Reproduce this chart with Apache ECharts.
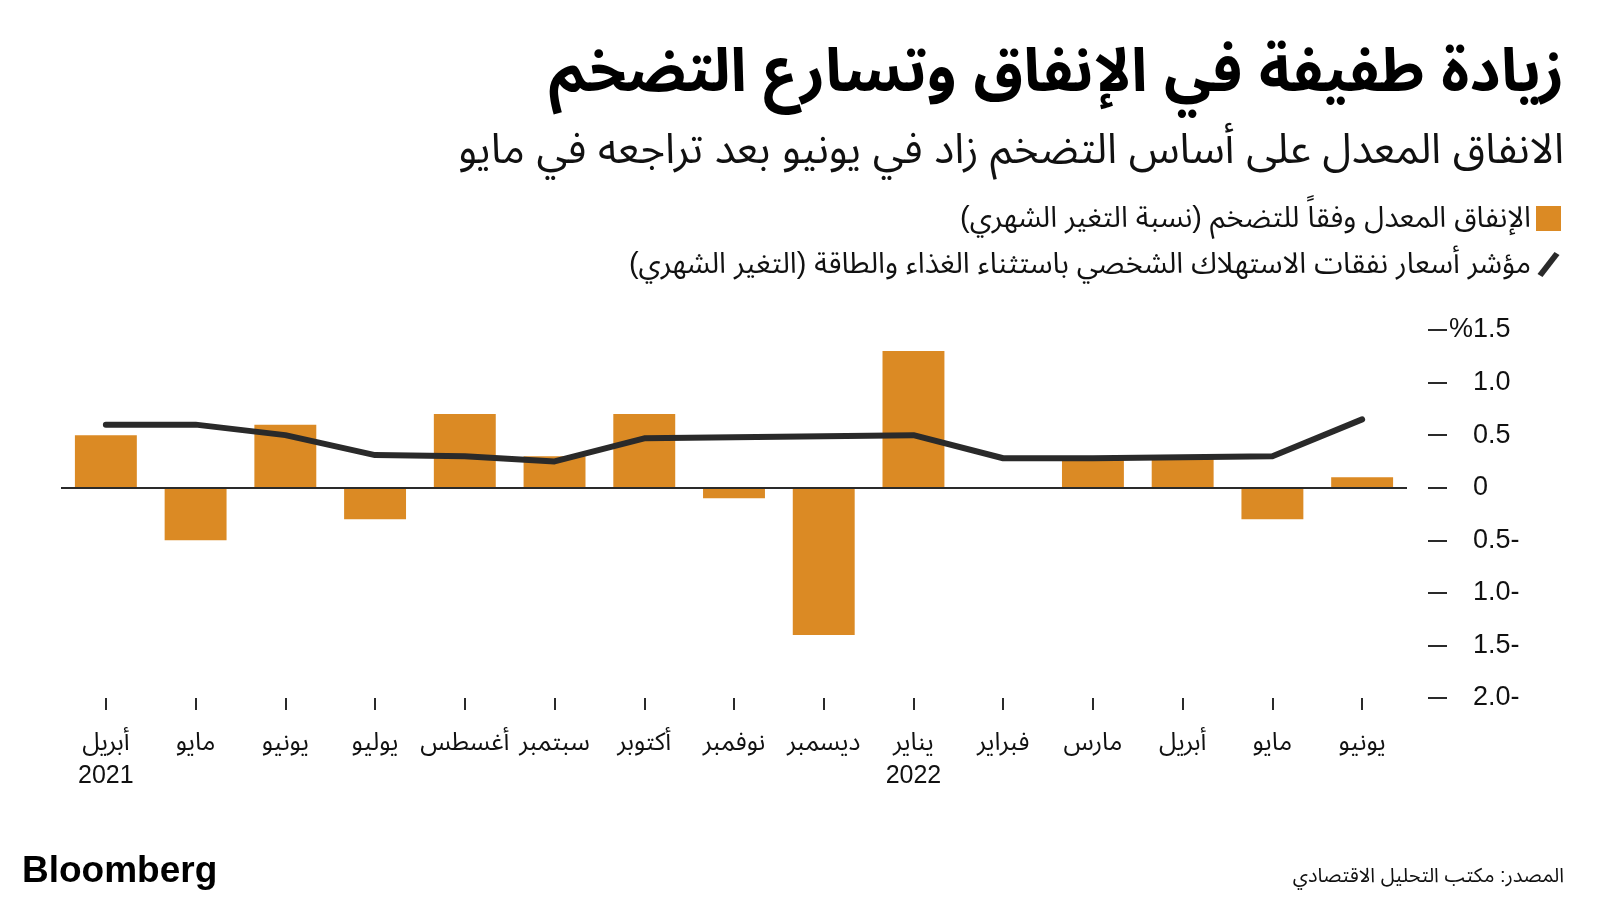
<!DOCTYPE html>
<html>
<head>
<meta charset="utf-8">
<script src="https://cdn.jsdelivr.net/npm/echarts@6/dist/echarts.min.js"></script>
<style>
  html, body { margin: 0; padding: 0; background: #ffffff; }
  #chart { width: 1600px; height: 900px; }
</style>
</head>
<body>
<div id="chart"></div>
<script>
// ---- Data ----
const categories = ['أبريل\n2021', 'مايو', 'يونيو', 'يوليو', 'أغسطس', 'سبتمبر', 'أكتوبر', 'نوفمبر', 'ديسمبر', 'يناير\n2022', 'فبراير', 'مارس', 'أبريل', 'مايو', 'يونيو'];
const spendingValues = [0.5, -0.5, 0.6, -0.3, 0.7, 0.3, 0.7, -0.1, -1.4, 1.3, 0, 0.3, 0.3, -0.3, 0.1];
const pceValues = [0.6, 0.6, 0.5, 0.31, 0.3, 0.25, 0.47, 0.48, 0.49, 0.5, 0.28, 0.28, 0.29, 0.3, 0.65];
const yTickValues = [1.5, 1.0, 0.5, 0, -0.5, -1.0, -1.5, -2.0];
const yTickLabels = ['%1.5', '1.0', '0.5', '0', '0.5-', '1.0-', '1.5-', '2.0-'];

const titleText = 'زيادة طفيفة في الإنفاق وتسارع التضخم';
const subtitleText = 'الانفاق المعدل على أساس التضخم زاد في يونيو بعد تراجعه في مايو';
const spendingName = '\u200Fالإنفاق المعدل وفقاً للتضخم (نسبة التغير الشهري)\u200F';
const pceName = '\u200Fمؤشر أسعار نفقات الاستهلاك الشخصي باستثناء الغذاء والطاقة (التغير الشهري)\u200F';
const sourceText = 'المصدر: مكتب التحليل الاقتصادي';
const brandText = 'Bloomberg';

const FONT = "'Liberation Sans', 'Noto Sans Arabic', 'DejaVu Sans', sans-serif";
const ORANGE = '#db8a24';
const DARK = '#2a2a2a';

const chart = echarts.init(document.getElementById('chart'), null, { renderer: 'canvas' });

chart.setOption({
  backgroundColor: '#ffffff',
  animation: false,
  textStyle: { fontFamily: FONT },
  title: [
    { text: titleText, right: 31, top: 39,
      textStyle: { fontSize: 60, fontWeight: 'bold', color: '#000', fontFamily: FONT } },
    { text: subtitleText, right: 31, top: 125,
      textStyle: { fontSize: 42, fontWeight: 'normal', color: '#111', fontFamily: FONT } },
    { text: brandText, left: 17, top: 848,
      textStyle: { fontSize: 37, fontWeight: 'bold', color: '#000', fontFamily: FONT } },
    { text: sourceText, right: 31, top: 861,
      textStyle: { fontSize: 20, fontWeight: 'normal', color: '#111', fontFamily: FONT } }
  ],
  legend: {
    orient: 'vertical',
    align: 'right',
    right: 34,
    top: 199,
    itemWidth: 25,
    itemHeight: 25,
    itemGap: 17,
    selectedMode: false,
    textStyle: { fontSize: 29, color: '#111', fontFamily: FONT },
    data: [
      { name: spendingName, icon: 'rect', itemStyle: { color: ORANGE } },
      { name: pceName, icon: 'path://M17,0 L22,3 L5,25 L0,22 Z', itemStyle: { color: DARK } }
    ]
  },
  grid: { left: 61, right: 193, top: 330, bottom: 202, containLabel: false },
  xAxis: {
    type: 'category',
    data: categories,
    position: 'bottom',
    axisLine: { show: false, onZero: false },
    axisTick: { show: true, alignWithLabel: true, length: 12, lineStyle: { color: DARK, width: 2 } },
    axisLabel: { margin: 29, fontSize: 25, lineHeight: 33, color: '#111', fontFamily: FONT, interval: 0 },
    splitLine: { show: false }
  },
  yAxis: {
    type: 'value',
    position: 'right',
    min: -2,
    max: 1.5,
    interval: 0.5,
    offset: 21,
    axisLine: { show: false },
    axisTick: { show: true, inside: false, length: 19, lineStyle: { color: DARK, width: 2 } },
    splitLine: { show: false },
    axisLabel: {
      margin: 21,
      fontSize: 27,
      color: '#111',
      fontFamily: FONT,
      align: 'left',
      formatter: function (v) {
        let idx = -1;
        for (let i = 0; i < yTickValues.length; i++) {
          if (Math.abs(yTickValues[i] - v) < 1e-9) { idx = i; }
        }
        const lab = idx >= 0 ? yTickLabels[idx] : String(v);
        return lab.charAt(0) === '%' ? lab : '{sp|}' + lab;
      },
      rich: { sp: { width: 24 } }
    }
  },
  series: [
    {
      name: spendingName,
      type: 'bar',
      data: spendingValues,
      barCategoryGap: '31%',
      itemStyle: { color: ORANGE },
      markLine: {
        silent: true,
        symbol: 'none',
        label: { show: false },
        lineStyle: { color: DARK, width: 2, type: 'solid' },
        data: [{ yAxis: 0 }],
        z: 5
      }
    },
    {
      name: pceName,
      type: 'line',
      data: pceValues,
      symbol: 'none',
      z: 10,
      lineStyle: { color: DARK, width: 6, cap: 'round', join: 'round' },
      itemStyle: { color: DARK }
    }
  ]
});
</script>
</body>
</html>
